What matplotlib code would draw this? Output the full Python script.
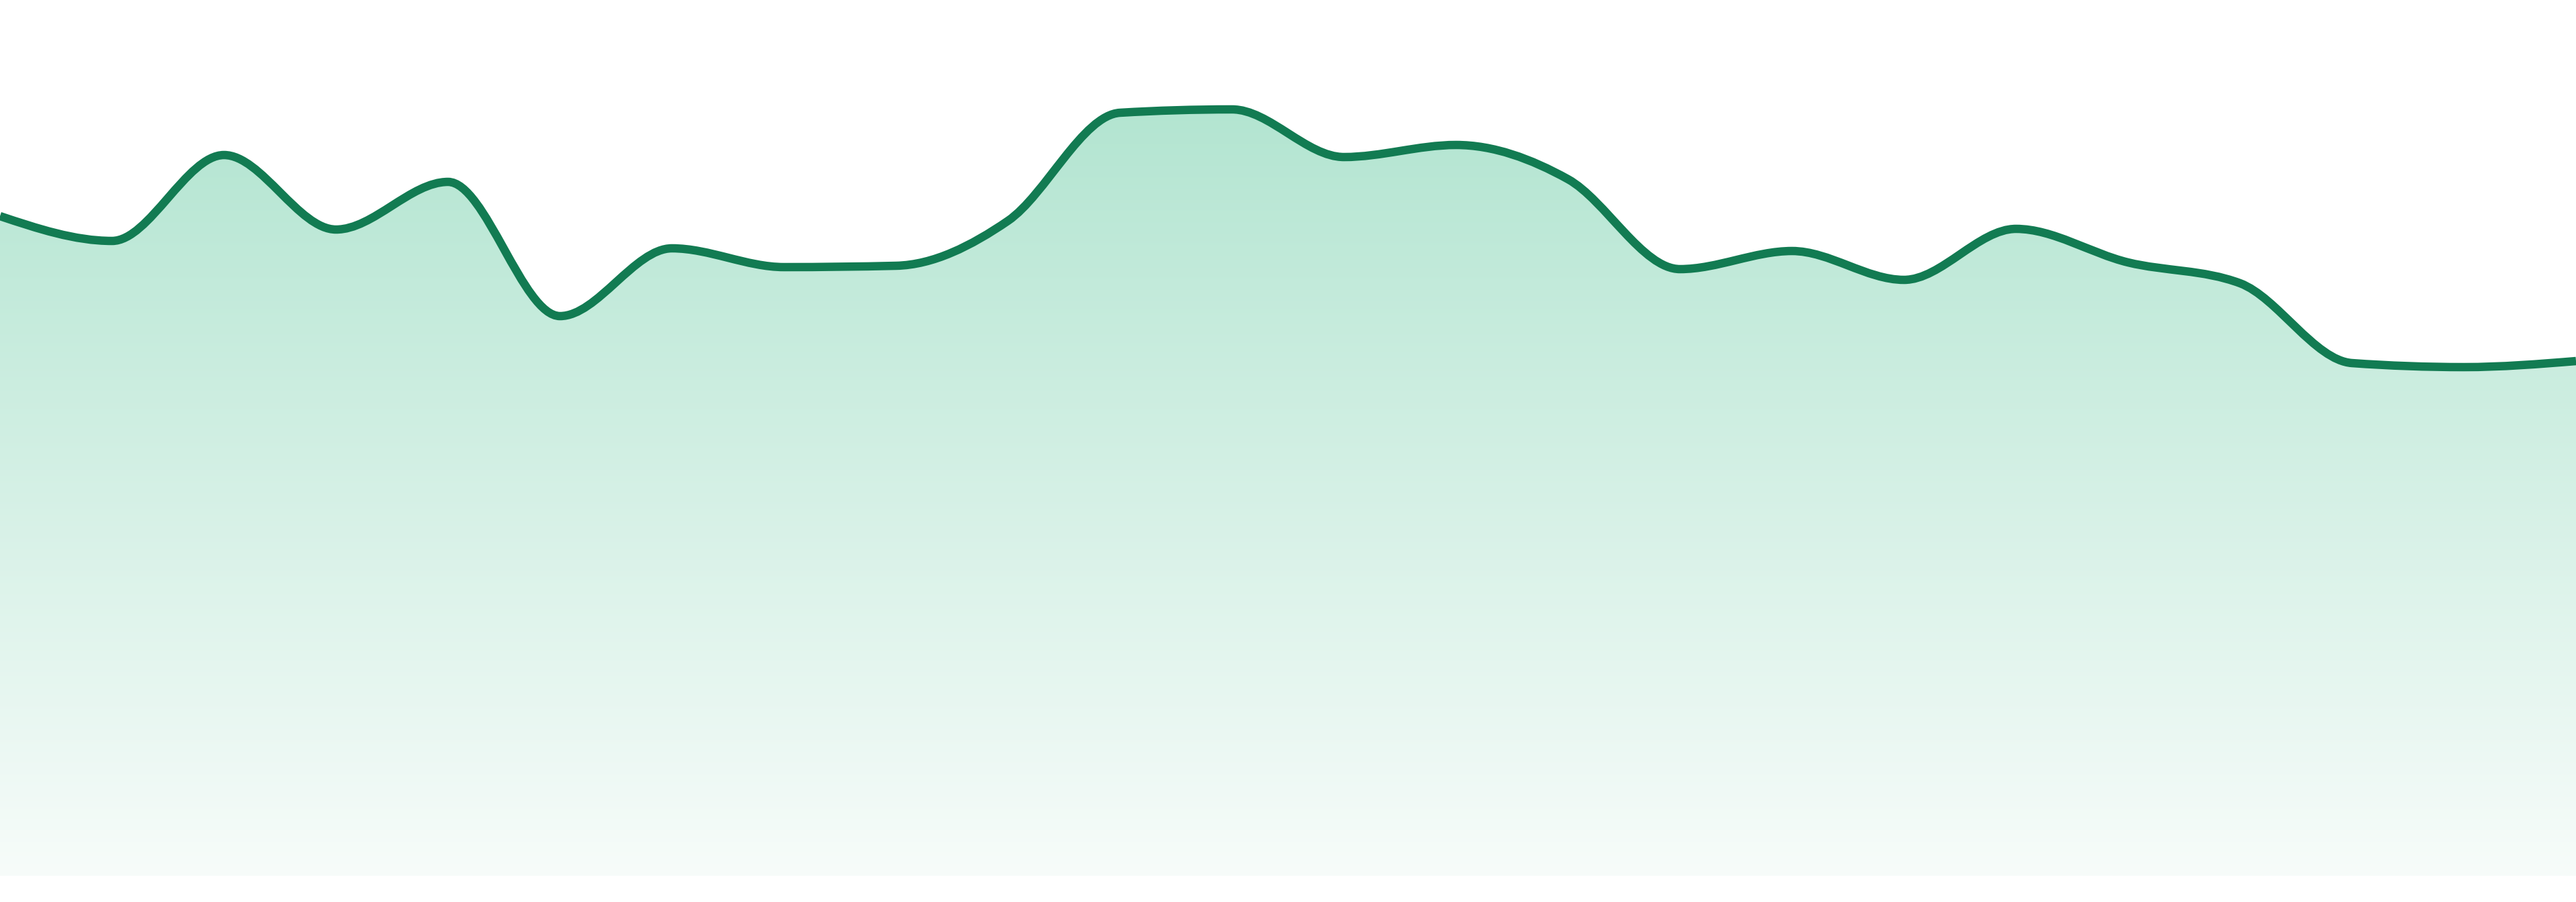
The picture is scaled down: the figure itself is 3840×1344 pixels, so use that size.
import numpy as np
import matplotlib
matplotlib.use("Agg")
import matplotlib.pyplot as plt
from matplotlib.path import Path
from matplotlib.patches import PathPatch

# Data: 24 evenly spaced samples
x_index = list(range(24))
values = [98.3, 94.6, 107.4, 96.3, 103.4, 83.4, 93.5, 90.7, 90.9, 97.6,
          113.7, 114.2, 107.1, 108.9, 103.8, 90.4, 93.1, 88.8, 96.4, 91.4,
          88.3, 76.4, 75.8, 76.7]

line_color = "#127b52"
fill_top = (179, 229, 209)
fill_bottom = (247, 252, 250)


def monotone_tangents(x, y):
    x = np.asarray(x, float)
    y = np.asarray(y, float)
    n = len(x)
    h = np.diff(x)
    s = np.diff(y) / h
    t = np.zeros(n)
    for i in range(1, n - 1):
        h0, h1 = h[i - 1], h[i]
        s0, s1 = s[i - 1], s[i]
        p = (s0 * h1 + s1 * h0) / (h0 + h1)
        t[i] = (np.sign(s0) + np.sign(s1)) * min(abs(s0), abs(s1), 0.5 * abs(p))
    t[0] = (3 * s[0] - t[1]) / 2 if n > 2 else s[0]
    t[-1] = (3 * s[-1] - t[-2]) / 2 if n > 2 else s[-1]
    return t


def monotone_path_verts(x, y):
    t = monotone_tangents(x, y)
    verts = [(x[0], y[0])]
    codes = [Path.MOVETO]
    for i in range(len(x) - 1):
        dx = (x[i + 1] - x[i]) / 3.0
        verts += [(x[i] + dx, y[i] + dx * t[i]),
                  (x[i + 1] - dx, y[i + 1] - dx * t[i + 1]),
                  (x[i + 1], y[i + 1])]
        codes += [Path.CURVE4] * 3
    return verts, codes


fig = plt.figure(figsize=(38.4, 13.44), dpi=100)
ax = fig.add_axes([0, 0, 1, 1])
ax.set_xlim(0, 23)
ax.set_ylim(-3.9, 130.5)
ax.axis("off")

verts, codes = monotone_path_verts(x_index, values)

# area path
area_verts = verts + [(x_index[-1], 0), (x_index[0], 0), (x_index[0], values[0])]
area_codes = codes + [Path.LINETO, Path.LINETO, Path.CLOSEPOLY]
area_path = Path(area_verts, area_codes)
clip = PathPatch(area_path, facecolor="none", edgecolor="none", transform=ax.transData)
ax.add_patch(clip)

ytop = max(values)
nrow = 512
frac = np.linspace(0, 1, nrow)[:, None]
top = np.array(fill_top) / 255.0
bot = np.array(fill_bottom) / 255.0
grad = top[None, :] * (1 - frac) + bot[None, :] * frac
grad = grad[:, None, :].repeat(2, axis=1)
im = ax.imshow(grad, extent=[0, 23, 0, ytop], aspect="auto", origin="upper",
               interpolation="bilinear", zorder=1)
im.set_clip_path(clip)

line = PathPatch(Path(verts, codes), facecolor="none", edgecolor=line_color,
                 linewidth=9, capstyle="butt", joinstyle="round", zorder=3)
ax.add_patch(line)

fig.savefig("out.png", dpi=100, facecolor="white")
